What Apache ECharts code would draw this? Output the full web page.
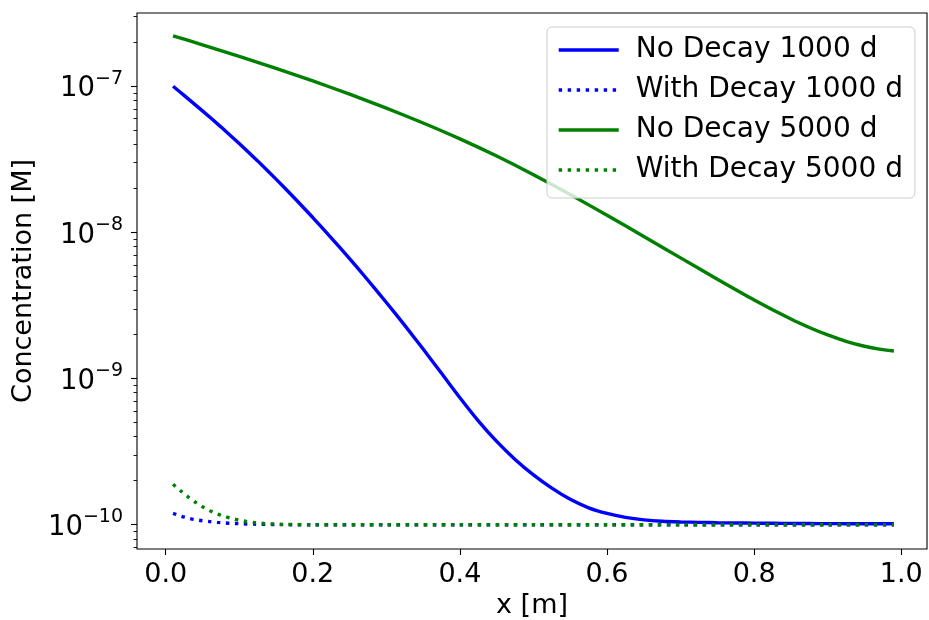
<!DOCTYPE html>
<html>
<head>
<meta charset="utf-8">
<script src="https://cdn.jsdelivr.net/npm/echarts@6/dist/echarts.min.js"></script>
<style>
html,body{margin:0;padding:0;background:#fff;}
#c{width:929px;height:620px;}
</style>
</head>
<body>
<div id="c"></div>
<script>
// ---- data ----
const seriesNames = ['No Decay 1000 d', 'With Decay 1000 d', 'No Decay 5000 d', 'With Decay 5000 d'];

const xNoDecay1000 = [0.01,0.025,0.05,0.075,0.10,0.125,0.15,0.175,0.20,0.225,0.25,0.275,0.30,0.325,0.35,0.375,0.40,0.425,0.45,0.475,0.50,0.525,0.55,0.575,0.60,0.625,0.65,0.675,0.70,0.725,0.75,0.775,0.80,0.825,0.85,0.875,0.90,0.925,0.95,0.975,0.99];
const noDecay1000 = [1.000e-7,8.660e-8,6.784e-8,5.274e-8,4.057e-8,3.084e-8,2.316e-8,1.720e-8,1.264e-8,9.182e-9,6.604e-9,4.704e-9,3.314e-9,2.310e-9,1.591e-9,1.086e-9,7.396e-10,5.140e-10,3.714e-10,2.798e-10,2.193e-10,1.778e-10,1.491e-10,1.305e-10,1.194e-10,1.123e-10,1.079e-10,1.055e-10,1.044e-10,1.038e-10,1.032e-10,1.028e-10,1.025e-10,1.023e-10,1.021e-10,1.019e-10,1.017e-10,1.016e-10,1.016e-10,1.015e-10,1.015e-10];

const xWithDecay1000 = [0.01,0.02,0.03,0.04,0.05,0.06,0.07,0.08,0.09,0.10,0.12,0.15,0.20,0.30,0.40,0.50,0.60,0.70,0.80,0.90,0.99];
const withDecay1000 = [1.197e-10,1.148e-10,1.112e-10,1.084e-10,1.064e-10,1.050e-10,1.038e-10,1.028e-10,1.021e-10,1.016e-10,1.009e-10,1.002e-10,1.0e-10,1.0e-10,1.0e-10,1.0e-10,1.0e-10,1.0e-10,1.0e-10,1.0e-10,1.0e-10];

const xNoDecay5000 = [0.01,0.05,0.10,0.15,0.20,0.25,0.30,0.35,0.40,0.45,0.50,0.55,0.60,0.65,0.70,0.75,0.80,0.85,0.875,0.90,0.925,0.95,0.97,0.99];
const noDecay5000 = [2.213e-7,1.922e-7,1.602e-7,1.325e-7,1.087e-7,8.822e-8,7.075e-8,5.602e-8,4.362e-8,3.327e-8,2.481e-8,1.814e-8,1.310e-8,9.380e-9,6.692e-9,4.786e-9,3.452e-9,2.555e-9,2.236e-9,1.987e-9,1.798e-9,1.663e-9,1.588e-9,1.543e-9];

const xWithDecay5000 = [0.01,0.02,0.03,0.04,0.05,0.06,0.07,0.08,0.09,0.10,0.11,0.12,0.13,0.14,0.16,0.20,0.30,0.40,0.50,0.60,0.70,0.80,0.90,0.99];
const withDecay5000 = [1.89e-10,1.71e-10,1.556e-10,1.43e-10,1.327e-10,1.247e-10,1.186e-10,1.138e-10,1.102e-10,1.074e-10,1.052e-10,1.035e-10,1.023e-10,1.014e-10,1.005e-10,1.0e-10,1.0e-10,1.0e-10,1.0e-10,1.0e-10,1.0e-10,1.0e-10,1.0e-10,1.0e-10];

const xTicks = [0.0,0.2,0.4,0.6,0.8,1.0];
const yTickExponents = [-10,-9,-8,-7];
const xMin = -0.039, xMax = 1.035;
const yMin = 6.82e-11, yMax = 3.17e-7;

// ---- chart ----
const FONT = 'DejaVu Sans';
const BLUE = '#0000ff', GREEN = '#008000';
const LW = 3.4;
const DOT = [3.4, 5.6];

const pairs = (xs, ys) => xs.map((x, i) => [x, ys[i]]);
const minorTicks = [];
for (let n = -11; n <= -7; n++) for (let k = 2; k <= 9; k++) minorTicks.push(n + Math.log10(k));

const chart = echarts.init(document.getElementById('c'), null, {renderer: 'canvas'});
const tickLine = {color: '#000', width: 1.1};

const option = {
  animation: false,
  backgroundColor: '#fff',
  grid: {left: 137, top: 13, right: 2, bottom: 71, containLabel: false, outerBoundsMode: 'none',
         show: true, borderColor: '#000', borderWidth: 1.1, backgroundColor: 'transparent'},
  xAxis: {
    type: 'value', min: xMin, max: xMax,
    name: 'x [m]', nameLocation: 'middle', nameGap: 40,
    nameTextStyle: {fontFamily: FONT, fontSize: 27, color: '#000'},
    axisLine: {show: false}, splitLine: {show: false},
    axisTick: {show: true, length: 6, lineStyle: tickLine, customValues: xTicks},
    axisLabel: {customValues: xTicks, formatter: v => v.toFixed(1), fontFamily: FONT, fontSize: 27, color: '#000', margin: 12}
  },
  yAxis: [
    {type: 'log', logBase: 10, min: yMin, max: yMax, show: false},
    {
      type: 'value', min: Math.log10(yMin), max: Math.log10(yMax), position: 'left',
      name: 'Concentration [M]', nameLocation: 'middle', nameGap: 95, nameRotate: 90,
      nameTextStyle: {fontFamily: FONT, fontSize: 27, color: '#000'},
      axisLine: {show: false}, splitLine: {show: false},
      axisTick: {show: true, length: 6, lineStyle: tickLine, customValues: yTickExponents},
      axisLabel: {
        customValues: yTickExponents, margin: 14,
        formatter: v => '{b|10}{s|\u2212' + Math.abs(Math.round(v)) + '}',
        rich: {
          b: {fontFamily: FONT, fontSize: 27.5, lineHeight: 34, verticalAlign: 'bottom', color: '#000'},
          s: {fontFamily: FONT, fontSize: 19, lineHeight: 19, verticalAlign: 'top', color: '#000'}
        }
      }
    },
    {
      type: 'value', min: Math.log10(yMin), max: Math.log10(yMax), position: 'left',
      axisLine: {show: false}, splitLine: {show: false}, axisLabel: {show: false},
      axisTick: {show: true, length: 3.5, lineStyle: {color: '#000', width: 0.9}, customValues: minorTicks}
    }
  ],
  legend: {
    orient: 'vertical', left: 547, top: 27,
    padding: [9, 12, 14, 10],
    itemWidth: 60, itemHeight: 14, itemGap: 12,
    backgroundColor: 'rgba(255,255,255,0.8)', borderColor: '#cccccc', borderWidth: 1, borderRadius: 5,
    selectedMode: false,
    lineStyle: {width: 'inherit'},
    itemStyle: {opacity: 0},
    textStyle: {fontFamily: FONT, fontSize: 28, color: '#000', lineHeight: 27, padding: [0, 0, 0, 12]},
    data: seriesNames
  },
  series: [
    {name: seriesNames[0], type: 'line', yAxisIndex: 0, data: pairs(xNoDecay1000, noDecay1000), symbol: 'none', smooth: 0.2,
     lineStyle: {color: BLUE, width: LW}, itemStyle: {color: BLUE}},
    {name: seriesNames[1], type: 'line', yAxisIndex: 0, data: pairs(xWithDecay1000, withDecay1000), symbol: 'none', smooth: 0.3,
     lineStyle: {color: BLUE, width: LW, type: DOT, cap: 'butt'}, itemStyle: {color: BLUE}},
    {name: seriesNames[2], type: 'line', yAxisIndex: 0, data: pairs(xNoDecay5000, noDecay5000), symbol: 'none', smooth: 0.2,
     lineStyle: {color: GREEN, width: LW}, itemStyle: {color: GREEN}},
    {name: seriesNames[3], type: 'line', yAxisIndex: 0, data: pairs(xWithDecay5000, withDecay5000), symbol: 'none', smooth: 0.3,
     lineStyle: {color: GREEN, width: LW, type: DOT, cap: 'butt'}, itemStyle: {color: GREEN}}
  ]
};
chart.setOption(option);
</script>
</body>
</html>
